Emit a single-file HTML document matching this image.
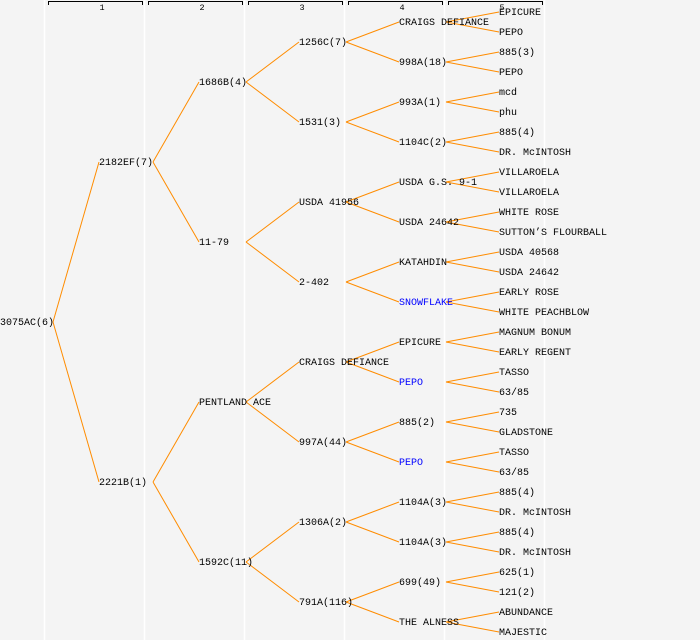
<!DOCTYPE html>
<html><head><meta charset="utf-8"><style>
html,body{margin:0;padding:0;background:#f4f4f4;}
svg{display:block;}
text{font-family:"Liberation Mono",monospace;font-size:10px;fill:#000;}
.b{fill:#0000ff;}
.h{font-size:8.5px;text-anchor:middle;}
</style></head><body>
<svg width="700" height="640" xmlns="http://www.w3.org/2000/svg">
<rect width="700" height="640" fill="#f4f4f4"/>
<g stroke="#ffffff" stroke-width="1.5">
<line x1="44.5" y1="0" x2="44.5" y2="640"/><line x1="144.5" y1="0" x2="144.5" y2="640"/><line x1="244.5" y1="0" x2="244.5" y2="640"/><line x1="344.5" y1="0" x2="344.5" y2="640"/><line x1="444.5" y1="0" x2="444.5" y2="640"/><line x1="544.5" y1="0" x2="544.5" y2="640"/>
</g>
<g stroke="#000" stroke-width="1" fill="none">
<polyline points="48.5,5 48.5,1.5 142.5,1.5 142.5,5"/>
<polyline points="148.5,5 148.5,1.5 242.5,1.5 242.5,5"/>
<polyline points="248.5,5 248.5,1.5 342.5,1.5 342.5,5"/>
<polyline points="348.5,5 348.5,1.5 442.5,1.5 442.5,5"/>
<polyline points="448.5,5 448.5,1.5 542.5,1.5 542.5,5"/>
</g>
<text class="h" x="102" y="10">1</text><text class="h" x="202" y="10">2</text><text class="h" x="302" y="10">3</text><text class="h" x="402" y="10">4</text><text class="h" x="502" y="10">5</text>
<g stroke="#ff8c00" stroke-width="1" fill="none">
<path d="M53 322L99 162M53 322L99 482"/>
<path d="M153 162L199 82M153 162L199 242M153 482L199 402M153 482L199 562"/>
<path d="M246 82L299 42M246 82L299 122M246 242L299 202M246 242L299 282M246 402L299 362M246 402L299 442M246 562L299 522M246 562L299 602"/>
<path d="M346 42L399 22M346 42L399 62M346 122L399 102M346 122L399 142M346 202L399 182M346 202L399 222M346 282L399 262M346 282L399 302M346 362L399 342M346 362L399 382M346 442L399 422M346 442L399 462M346 522L399 502M346 522L399 542M346 602L399 582M346 602L399 622"/>
<path d="M446 22L499 12M446 22L499 32M446 62L499 52M446 62L499 72M446 102L499 92M446 102L499 112M446 142L499 132M446 142L499 152M446 182L499 172M446 182L499 192M446 222L499 212M446 222L499 232M446 262L499 252M446 262L499 272M446 302L499 292M446 302L499 312M446 342L499 332M446 342L499 352M446 382L499 372M446 382L499 392M446 422L499 412M446 422L499 432M446 462L499 452M446 462L499 472M446 502L499 492M446 502L499 512M446 542L499 532M446 542L499 552M446 582L499 572M446 582L499 592M446 622L499 612M446 622L499 632"/>
</g>
<g transform="translate(0,-1)">
<text x="0" y="326">3075AC(6)</text>
<text x="99" y="166">2182EF(7)</text><text x="99" y="486">2221B(1)</text>
<text x="199" y="86">1686B(4)</text><text x="199" y="246">11-79</text><text x="199" y="406">PENTLAND ACE</text><text x="199" y="566">1592C(11)</text>
<text x="299" y="46">1256C(7)</text><text x="299" y="126">1531(3)</text><text x="299" y="206">USDA 41956</text><text x="299" y="286">2-402</text><text x="299" y="366">CRAIGS DEFIANCE</text><text x="299" y="446">997A(44)</text><text x="299" y="526">1306A(2)</text><text x="299" y="606">791A(116)</text>
<text x="399" y="26">CRAIGS DEFIANCE</text><text x="399" y="66">998A(18)</text><text x="399" y="106">993A(1)</text><text x="399" y="146">1104C(2)</text><text x="399" y="186">USDA G.S. 9-1</text><text x="399" y="226">USDA 24642</text><text x="399" y="266">KATAHDIN</text><text class="b" x="399" y="306">SNOWFLAKE</text><text x="399" y="346">EPICURE</text><text class="b" x="399" y="386">PEPO</text><text x="399" y="426">885(2)</text><text class="b" x="399" y="466">PEPO</text><text x="399" y="506">1104A(3)</text><text x="399" y="546">1104A(3)</text><text x="399" y="586">699(49)</text><text x="399" y="626">THE ALNESS</text>
<text x="499" y="16">EPICURE</text><text x="499" y="36">PEPO</text><text x="499" y="56">885(3)</text><text x="499" y="76">PEPO</text><text x="499" y="96">mcd</text><text x="499" y="116">phu</text><text x="499" y="136">885(4)</text><text x="499" y="156">DR. McINTOSH</text><text x="499" y="176">VILLAROELA</text><text x="499" y="196">VILLAROELA</text><text x="499" y="216">WHITE ROSE</text><text x="499" y="236">SUTTON’S FLOURBALL</text><text x="499" y="256">USDA 40568</text><text x="499" y="276">USDA 24642</text><text x="499" y="296">EARLY ROSE</text><text x="499" y="316">WHITE PEACHBLOW</text><text x="499" y="336">MAGNUM BONUM</text><text x="499" y="356">EARLY REGENT</text><text x="499" y="376">TASSO</text><text x="499" y="396">63/85</text><text x="499" y="416">735</text><text x="499" y="436">GLADSTONE</text><text x="499" y="456">TASSO</text><text x="499" y="476">63/85</text><text x="499" y="496">885(4)</text><text x="499" y="516">DR. McINTOSH</text><text x="499" y="536">885(4)</text><text x="499" y="556">DR. McINTOSH</text><text x="499" y="576">625(1)</text><text x="499" y="596">121(2)</text><text x="499" y="616">ABUNDANCE</text><text x="499" y="636">MAJESTIC</text>
</g>
</svg>
</body></html>
